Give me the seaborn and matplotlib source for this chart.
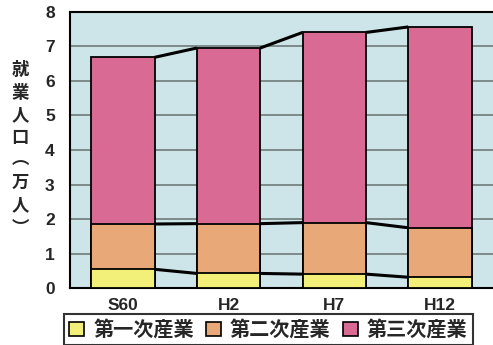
import numpy as np
import pandas as pd
import matplotlib
matplotlib.use("Agg")
import matplotlib.pyplot as plt
import seaborn as sns
from matplotlib.patches import Patch

# データ（万人）
years = ["S60", "H2", "H7", "H12"]
primary = [0.55, 0.43, 0.41, 0.32]
secondary = [1.31, 1.44, 1.49, 1.43]
tertiary = [4.82, 5.08, 5.50, 5.81]
sector_names = ["第一次産業", "第二次産業", "第三次産業"]
sector_colors = ["#f3f07a", "#e8a878", "#d96a94"]

sns.set_style("white")
plt.rcParams["font.family"] = ["Noto Sans CJK JP", "DejaVu Sans"]
plt.rcParams["font.weight"] = "bold"

df = pd.DataFrame({"year": years, "p": primary, "s": secondary, "t": tertiary})
df["c1"] = df["p"]
df["c2"] = df["p"] + df["s"]
df["c3"] = df["c2"] + df["t"]

fig = plt.figure(figsize=(4.93, 3.45), dpi=100)
ax = fig.add_axes([70 / 493, 1 - 288.3 / 345, 426 / 493, 276.6 / 345])
ax.set_facecolor("#cde5e9")

# 積み上げ（累積値を後ろから重ねる）
for col, color in zip(["c3", "c2", "c1"], sector_colors[::-1]):
    sns.barplot(data=df, x="year", y=col, color=color, width=0.6,
                edgecolor="black", linewidth=1.3, saturation=1, ax=ax, zorder=3)

# 区分線
for i in range(len(years) - 1):
    for col in ["c1", "c2", "c3"]:
        ax.plot([i + 0.3, i + 0.7], [df[col][i], df[col][i + 1]],
                color="black", lw=2.2, zorder=4, solid_capstyle="butt")

ax.set_ylim(0, 8)
ax.set_xlim(-0.5, len(years) - 0.47)
ax.set_yticks(range(0, 9))
ax.yaxis.grid(True, color="#7d8a8a", lw=1.4, zorder=0)
ax.set_axisbelow(True)
ax.set_xticks([0.5, 1.5, 2.5], minor=True)
ax.tick_params(axis="x", which="minor", direction="in", length=5, width=1.2, color="black")
ax.tick_params(axis="both", which="major", length=0)
ax.tick_params(axis="y", pad=11)
ax.tick_params(axis="x", pad=7)
for lab in ax.get_xticklabels() + ax.get_yticklabels():
    lab.set_fontfamily(["Liberation Sans", "DejaVu Sans"])
    lab.set_fontweight("bold")
    lab.set_fontsize(12.5)
ax.set_xlabel("")
ax.set_ylabel("")
for side in ["left", "top", "bottom"]:
    ax.spines[side].set_color("black")
    ax.spines[side].set_linewidth(1.5)
ax.spines["right"].set_visible(False)

# 縦書きラベル
fig.text(20 / 493, 1 - 149 / 345, "\n".join("就業人口︵万人︶"), ha="center", va="center",
         fontsize=12.5, fontweight="bold", linespacing=1.32)

handles = [Patch(facecolor=c, edgecolor="black", linewidth=1.2) for c in sector_colors]
leg = fig.legend(handles, sector_names, loc="upper left", bbox_to_anchor=(64 / 493, 1 - 314 / 345),
                 ncol=3, frameon=True, fancybox=False, fontsize=14.5, handlelength=0.75,
                 handleheight=0.75, handletextpad=0.45, columnspacing=0.6, borderpad=0.25,
                 borderaxespad=0)
leg.get_frame().set_edgecolor("black")
leg.get_frame().set_linewidth(1.5)
for t in leg.get_texts():
    t.set_fontweight("bold")

fig.savefig("out.png", dpi=100)
